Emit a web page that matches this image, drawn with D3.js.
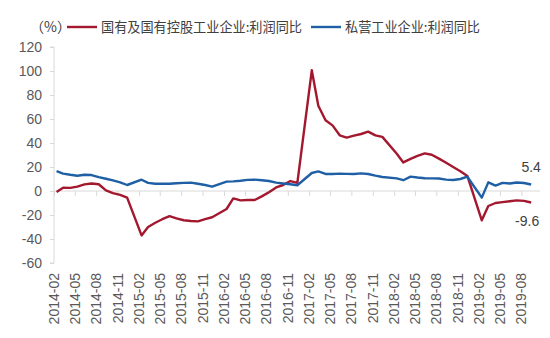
<!DOCTYPE html>
<html><head><meta charset="utf-8">
<script src="https://cdn.jsdelivr.net/npm/d3@7"></script>
<style>body{margin:0;background:#fff}svg{display:block}</style>
</head><body><svg id="c" width="550" height="338"></svg>
<script>
const months = [
"2014-02","2014-03","2014-04","2014-05","2014-06","2014-07","2014-08","2014-09","2014-10","2014-11","2014-12",
"2015-02","2015-03","2015-04","2015-05","2015-06","2015-07","2015-08","2015-09","2015-10","2015-11","2015-12",
"2016-02","2016-03","2016-04","2016-05","2016-06","2016-07","2016-08","2016-09","2016-10","2016-11","2016-12",
"2017-02","2017-03","2017-04","2017-05","2017-06","2017-07","2017-08","2017-09","2017-10","2017-11","2017-12",
"2018-02","2018-03","2018-04","2018-05","2018-06","2018-07","2018-08","2018-09","2018-10","2018-11","2018-12",
"2019-02","2019-03","2019-04","2019-05","2019-06","2019-07","2019-08","2019-09"];
const soeProfit = [
-0.8,2.8,2.6,3.6,5.5,6.3,5.6,0.5,-1.7,-3.3,-5.5,
-37.0,-30.0,-26.5,-23.5,-21.0,-22.8,-24.4,-25.0,-25.3,-23.5,-21.9,
-15.0,-6.2,-7.8,-7.5,-7.5,-4.5,-1.0,3.0,5.0,8.3,6.7,
100.6,71.0,59.0,54.7,46.4,44.5,46.2,47.5,49.5,46.4,45.1,
31.0,23.8,26.8,29.2,31.3,30.2,27.0,23.5,20.0,16.5,12.6,
-24.4,-12.5,-10.0,-9.3,-8.5,-7.8,-8.2,-9.6];
const privateProfit = [
16.5,14.5,13.5,12.7,13.5,13.3,11.5,10.2,8.8,7.2,5.0,
9.4,6.8,6.0,6.0,6.1,6.5,6.8,7.0,6.0,5.0,3.7,
7.8,8.0,8.5,9.3,9.5,9.0,8.3,7.0,6.3,5.6,4.8,
15.0,16.3,14.2,14.2,14.5,14.3,14.2,14.7,14.2,12.8,11.7,
10.5,9.0,12.0,11.2,10.6,10.5,10.4,9.5,9.2,10.0,11.9,
-5.5,7.2,4.5,6.8,6.3,7.1,6.7,5.4];
const xTickLabels = ["2014-02","2014-05","2014-08","2014-11","2015-02","2015-05","2015-08","2015-11",
"2016-02","2016-05","2016-08","2016-11","2017-02","2017-05","2017-08","2017-11",
"2018-02","2018-05","2018-08","2018-11","2019-02","2019-05","2019-08"];
const yTicks = [-60,-40,-20,0,20,40,60,80,100,120];
const seriesNames = ["国有及国有控股工业企业:利润同比","私营工业企业:利润同比"];
const colors = ["#a3182f","#1f5fa5"];

const parseM = s => { const [y,m] = s.split("-").map(Number); return new Date(y, m-1, 1); };
const pointDate = s => { const [y,m] = s.split("-").map(Number); return new Date(y, m-1, 12); };

const svg = d3.select("#c");
const x = d3.scaleTime().domain([new Date(2014,1,1), new Date(2019,9,20)]).range([54, 540]);
const y = d3.scaleLinear().domain([-60,120]).range([263, 47]);
const tickFont = "Liberation Sans, Arial, sans-serif";
const gray = "#595959";

// y axis
const ya = svg.append("g").attr("transform","translate(54,0)")
  .call(d3.axisLeft(y).tickValues(yTicks).tickSize(4).tickPadding(8).tickFormat(d => String(d)));
ya.select(".domain").attr("stroke","#d9d9d9").attr("d", `M-4,${y(-60)}H0V${y(120)}H-4`);
ya.selectAll(".tick line").attr("stroke","#d9d9d9");
ya.selectAll(".tick text").attr("fill",gray).attr("font-size","14px").attr("font-family",tickFont);

// x axis at zero
const xa = svg.append("g").attr("transform",`translate(0,${y(0)})`)
  .call(d3.axisBottom(x).tickValues(xTickLabels.map(parseM)).tickSize(5).tickFormat(""));
xa.select(".domain").attr("stroke","#d9d9d9").attr("d", `M54,0H${x.range()[1]}`);
xa.selectAll(".tick line").attr("stroke","#d9d9d9");

// x tick labels rotated at bottom
svg.append("g").selectAll("text").data(xTickLabels).join("text")
  .attr("transform", d => `translate(${x(parseM(d))+5},273) rotate(-90)`)
  .attr("text-anchor","end")
  .attr("fill",gray).attr("font-size","14px").attr("font-family",tickFont)
  .text(d => d);

// lines
const line = d3.line().x(d => x(d.date)).y(d => y(d.v));
[soeProfit, privateProfit].forEach((vals,i) => {
  const data = months.map((m,j) => ({date: pointDate(m), v: vals[j]}));
  svg.append("path").datum(data).attr("d", line)
    .attr("fill","none").attr("stroke",colors[i]).attr("stroke-width",2.4)
    .attr("stroke-linejoin","round");
});

// end labels
const lastDate = pointDate(months[months.length-1]);
const fmt = v => v.toFixed(1);
svg.append("text").attr("x", x(lastDate)).attr("y", y(privateProfit[privateProfit.length-1]) - 13)
  .attr("text-anchor","middle").attr("fill","#404040").attr("font-size","14px").attr("font-family",tickFont)
  .text(fmt(privateProfit[privateProfit.length-1]));
svg.append("text").attr("x", x(lastDate) - 4).attr("y", y(soeProfit[soeProfit.length-1]) + 23)
  .attr("text-anchor","middle").attr("fill","#404040").attr("font-size","14px").attr("font-family",tickFont)
  .text(fmt(soeProfit[soeProfit.length-1]));

// legend
const cjk = "Noto Sans CJK SC, sans-serif";
svg.append("text").attr("x",30).attr("y",32).attr("fill","#404040").attr("font-size","14px")
  .attr("font-family",cjk).text("（%）");
const legX = [67, 311];
const legTextLen = [201, 135];
seriesNames.forEach((n,i) => {
  svg.append("line").attr("x1",legX[i]).attr("x2",legX[i]+30).attr("y1",27).attr("y2",27)
    .attr("stroke",colors[i]).attr("stroke-width",2.4);
  svg.append("text").attr("x",legX[i]+34).attr("y",32).attr("fill","#404040")
    .attr("font-size","13.5px").attr("font-family",cjk)
    .attr("textLength",legTextLen[i]).attr("lengthAdjust","spacingAndGlyphs").text(n);
});
</script></body></html>
